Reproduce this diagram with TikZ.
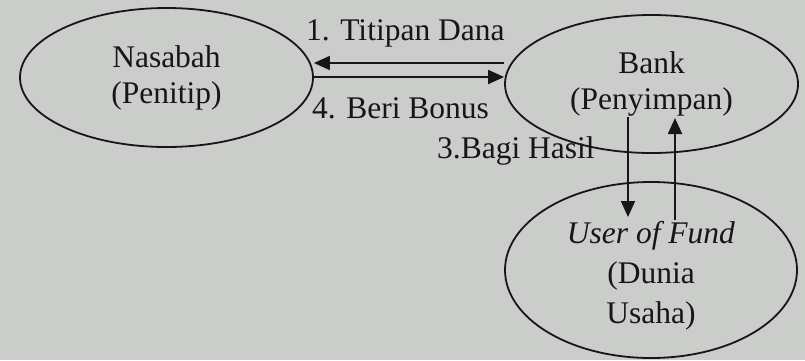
\documentclass[tikz,border=0pt]{standalone}
\usepackage{fontspec}
\setmainfont{Liberation Serif}
\usetikzlibrary{shapes.geometric,arrows.meta}
\definecolor{paper}{RGB}{203,205,202}
\definecolor{ink}{RGB}{22,22,22}
\tikzset{
  party/.style={ellipse, draw=ink, line width=1.8pt, inner sep=0pt,
                align=center, text=ink, font=\fontsize{31.5}{36}\selectfont},
  partytext/.style={align=center, inner sep=0pt, text=ink,
                    font=\fontsize{31.5}{40}\selectfont},
  flow/.style={draw=ink, line width=1.8pt, -{Triangle[length=16pt,width=14pt]}},
  flowlabel/.style={anchor=base west, inner sep=0pt, text=ink,
                    font=\fontsize{31.5}{36}\selectfont}
}
\begin{document}
\begin{tikzpicture}[x=1pt,y=-1pt]
  \useasboundingbox (0,0) rectangle (805,360);
  \fill[paper] (0,0) rectangle (805,360);

  % flow labels
  \node[flowlabel] (l1) at (306,40) {1. Titipan Dana};
  \node[flowlabel] (l4) at (312,118) {4. Beri Bonus};
  \node[flowlabel] (l3) at (437,158) {3.Bagi Hasil};

  % the three parties
  \node[party, minimum width=293pt, minimum height=139pt] (nasabah) at (166.5,77.5)
    {Nasabah\\(Penitip)};
  \node[party, minimum width=293pt, minimum height=138pt] (bank) at (651.5,84)
    {Bank\\(Penyimpan)};
  \node[party, minimum width=292pt, minimum height=176pt] (user) at (651,270) {};
  \node[partytext] (usertext) at ([yshift=-6pt]user.center)
    {\textit{User of Fund}\\(Dunia\\Usaha)};

  % money flows between the parties
  \coordinate (downstart) at (628,117);
  \coordinate (downend) at (628,217);
  \coordinate (upstart) at (675,220);
  \coordinate (upend) at (675,118);

  \draw[flow] (bank.west |- 0,63) -- (nasabah.east |- 0,63);
  \draw[flow] (nasabah.east |- 0,77) -- (bank.west |- 0,77);
  \draw[flow] (downstart) -- (downend);
  \draw[flow] (upstart) -- (upend);
\end{tikzpicture}
\end{document}
